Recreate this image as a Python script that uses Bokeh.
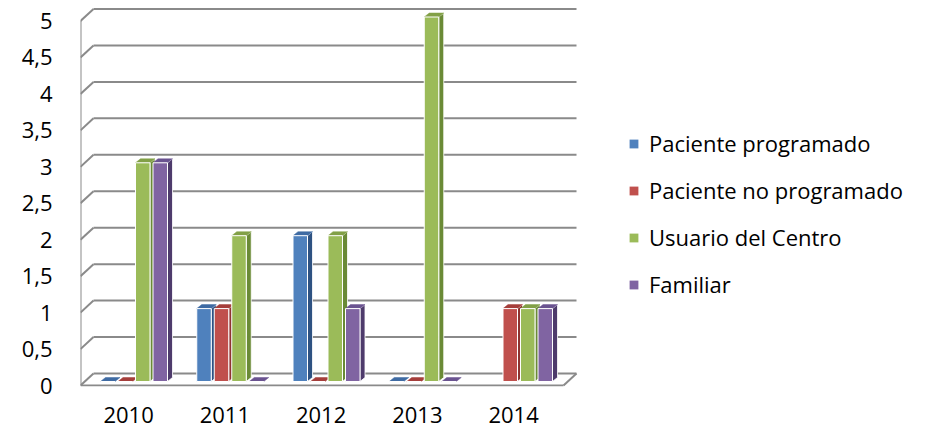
import math
from bokeh.plotting import figure
from bokeh.models import (Range1d, LinearAxis, FixedTicker, CustomJSTickFormatter,
                          Legend, LegendItem)
from bokeh.embed import file_html
from bokeh.resources import INLINE

# ---------------- data ----------------
years = ["2010", "2011", "2012", "2013", "2014"]
series_names = ["Paciente programado", "Paciente no programado", "Usuario del Centro", "Familiar"]
paciente_programado = [0, 1, 2, 0, float("nan")]
paciente_no_programado = [0, 1, 0, 0, 1]
usuario_del_centro = [3, 2, 2, 5, 1]
familiar = [3, 0, 1, 0, 1]
y_ticks = [0, 0.5, 1, 1.5, 2, 2.5, 3, 3.5, 4, 4.5, 5]
y_tick_labels = ["0", "0,5", "1", "1,5", "2", "2,5", "3", "3,5", "4", "4,5", "5"]

series_values = [paciente_programado, paciente_no_programado, usuario_del_centro, familiar]
front_colors = ["#4F81BD", "#C0504D", "#9BBB59", "#8064A2"]
side_colors = ["#2E5282", "#8E3330", "#6A8A36", "#4E3B6C"]
top_colors = ["#3F6BA3", "#A53E3B", "#82A047", "#6A5390"]

# ---------------- layout constants (pixels) ----------------
W, H = 926, 430
MIN_LEFT, MIN_BOTTOM = 80, 44
SLOT = 96.25            # px per category
PX = 72.9               # px per value unit
BAR0_OFF = 5            # bar base is this many px above frame bottom
BACK_OFF = 8            # back wall is this many px higher than bar plane
FRONT_OFF = 4           # front wall is this many px lower than bar plane
DEPTH_DX = 13           # wall depth, px
BAR_LEFT0, BAR_STEP, BAR_W = 20, 17.5, 14.5
BAR_DX, BAR_DY = 5, 4
FLOOR_RIGHT = 483       # px from frame left
GRID_GRAY = "#8a8a8a"
FONT = "Open Sans"

frame_w = W - MIN_LEFT
frame_h = H - MIN_BOTTOM
y0 = -BAR0_OFF / PX
y1 = (frame_h - BAR0_OFF) / PX

p = figure(width=W, height=H, x_range=Range1d(0, frame_w / SLOT), y_range=Range1d(y0, y1),
           output_backend="svg", toolbar_location=None, x_axis_type=None, y_axis_type=None,
           min_border_left=MIN_LEFT, min_border_bottom=MIN_BOTTOM, min_border_top=0,
           min_border_right=0, outline_line_color=None, background_fill_color="white",
           border_fill_color="white")
p.xgrid.visible = False
p.ygrid.visible = False

# extra range for the front-wall axis labels
p.extra_y_ranges = {"front": Range1d(y0 + FRONT_OFF / PX, y1 + FRONT_OFF / PX)}

# ---------------- walls / gridlines ----------------
bx0 = DEPTH_DX / SLOT
bx1 = (FLOOR_RIGHT + DEPTH_DX) / SLOT
back_y = [v + BACK_OFF / PX for v in y_ticks]
front_y = [v - FRONT_OFF / PX for v in y_ticks]
p.segment(x0=[bx0] * len(y_ticks), y0=back_y, x1=[bx1] * len(y_ticks), y1=back_y,
          line_color=GRID_GRAY, line_width=2)
p.segment(x0=[0] * len(y_ticks), y0=front_y, x1=[bx0] * len(y_ticks), y1=back_y,
          line_color=GRID_GRAY, line_width=2)
# front wall vertical edge
p.segment(x0=[0], y0=[front_y[0]], x1=[0], y1=[front_y[-1]], line_color=GRID_GRAY, line_width=2)
# floor front edge and right diagonal
p.segment(x0=[0, FLOOR_RIGHT / SLOT], y0=[front_y[0], front_y[0]],
          x1=[FLOOR_RIGHT / SLOT, bx1], y1=[front_y[0], back_y[0]],
          line_color=GRID_GRAY, line_width=2)

# ---------------- 3D bars ----------------
legend_items = []
for j, (name, vals) in enumerate(zip(series_names, series_values)):
    lefts, rights, tops, bottoms = [], [], [], []
    side_xs, side_ys, top_xs, top_ys = [], [], [], []
    for i, v in enumerate(vals):
        if v is None or (isinstance(v, float) and math.isnan(v)):
            continue
        l = i + (BAR_LEFT0 + j * BAR_STEP) / SLOT
        r = l + BAR_W / SLOT
        dx, dy = BAR_DX / SLOT, BAR_DY / PX
        lefts.append(l); rights.append(r); tops.append(v); bottoms.append(0)
        side_xs.append([r, r + dx, r + dx, r]); side_ys.append([0, dy, v + dy, v])
        top_xs.append([l, r, r + dx, l + dx]); top_ys.append([v, v, v + dy, v + dy])
    p.patches(xs=side_xs, ys=side_ys, fill_color=side_colors[j], line_color="white",
              line_width=0.8)
    p.patches(xs=top_xs, ys=top_ys, fill_color=top_colors[j], line_color=top_colors[j],
              line_width=0.5)
    p.quad(left=lefts, right=rights, top=tops, bottom=bottoms,
           fill_color=front_colors[j], line_color="white", line_width=1)
    lr = p.quad(left=[0], right=[0], top=[0], bottom=[0], fill_color=front_colors[j],
                line_color=None)
    legend_items.append(LegendItem(label=name, renderers=[lr]))

# ---------------- axes ----------------
yaxis = LinearAxis(y_range_name="front", ticker=FixedTicker(ticks=y_ticks),
                   formatter=CustomJSTickFormatter(args=dict(t=y_ticks, lab=y_tick_labels), code="""
                       let best = 0;
                       for (let k = 0; k < t.length; k++) {
                           if (Math.abs(t[k] - tick) < Math.abs(t[best] - tick)) best = k;
                       }
                       return lab[best];
                   """),
                   axis_line_color=None, major_tick_line_color=None, minor_tick_line_color=None,
                   major_label_standoff=22, major_label_text_font=FONT,
                   major_label_text_font_size="22px", major_label_text_color="#000000")
p.add_layout(yaxis, "left")

xaxis = LinearAxis(ticker=FixedTicker(ticks=[i + 0.5 for i in range(len(years))]),
                   formatter=CustomJSTickFormatter(args=dict(lab=years),
                                                   code="return lab[Math.round(tick - 0.5)];"),
                   axis_line_color=None, major_tick_line_color=None, minor_tick_line_color=None,
                   major_label_standoff=14, major_label_text_font=FONT,
                   major_label_text_font_size="22px", major_label_text_color="#000000")
p.add_layout(xaxis, "below")

# ---------------- legend ----------------
legend = Legend(items=legend_items, location=(548, 87), orientation="vertical",
                glyph_width=11, glyph_height=11, label_height=24, spacing=17,
                label_standoff=10, padding=0, margin=0, border_line_color=None,
                background_fill_alpha=0, label_text_font=FONT, label_text_font_size="22px",
                label_text_color="#000000")
p.add_layout(legend, "center")

open("out.html", "w").write(file_html(p, INLINE))
